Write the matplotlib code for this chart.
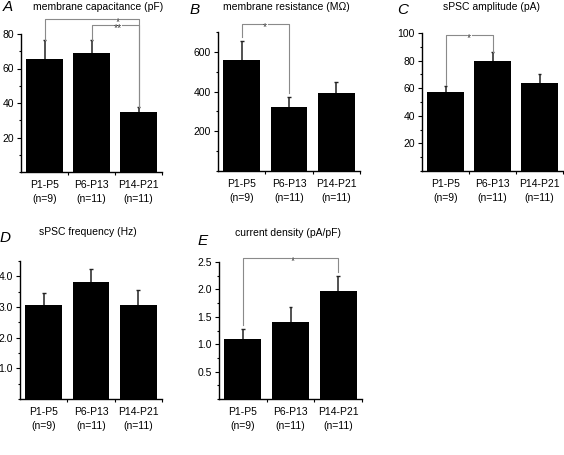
import matplotlib
matplotlib.use("Agg")
import matplotlib.pyplot as plt
from matplotlib.ticker import MultipleLocator

plt.rcParams['font.family'] = ['Liberation Sans', 'DejaVu Sans']
plt.rcParams['font.size'] = 7.5

W, H = 564, 455

groups = ["P1-P5\n(n=9)", "P6-P13\n(n=11)", "P14-P21\n(n=11)"]

cap_mean = [65.5, 69.0, 34.5]
cap_err = [11.0, 7.5, 3.0]
res_mean = [560, 320, 392]
res_err = [95, 55, 55]
amp_mean = [57.0, 80.0, 63.5]
amp_err = [4.5, 6.0, 7.0]
freq_mean = [3.05, 3.82, 3.05]
freq_err = [0.42, 0.42, 0.50]
dens_mean = [1.10, 1.40, 1.97]
dens_err = [0.18, 0.27, 0.28]

# significance brackets: (bar a, bar b, bracket height, label, star x)
cap_sig = [(0, 2, 88.7, "*", 1.56), (1, 2, 85.2, "**", 1.56)]
res_sig = [(0, 1, 740, "*", 0.5)]
amp_sig = [(0, 1, 98.5, "*", 0.5)]
dens_sig = [(0, 2, 2.57, "*", 1.04)]


def px_box(x0, x1, ytop, ybot):
    return [x0 / W, 1 - ybot / H, (x1 - x0) / W, (ybot - ytop) / H]


def bar_panel(fig, box, means, errs, ymax, major, minor, fmt, sigs, gap):
    ax = fig.add_axes(box)
    x = list(range(len(means)))
    ax.bar(x, means, width=0.78, color="black", zorder=2)
    tops = [m + e for m, e in zip(means, errs)]
    ax.vlines(x, means, tops, color="#222222", lw=1.1, zorder=1)
    ax.hlines(tops, [i - 0.04 for i in x], [i + 0.04 for i in x],
              color="#222222", lw=1.0, zorder=1)
    ax.set_xlim(-0.5, 2.5)
    ax.set_ylim(0, ymax)
    ax.spines["top"].set_visible(False)
    ax.spines["right"].set_visible(False)
    ax.spines["left"].set_linewidth(1.0)
    ax.spines["bottom"].set_linewidth(1.0)
    ax.yaxis.set_major_locator(MultipleLocator(major))
    ax.yaxis.set_minor_locator(MultipleLocator(minor))
    ticks = [t for t in ax.get_yticks() if 0 < t <= ymax + 1e-9]
    ax.set_yticks(ticks)
    ax.set_yticklabels([fmt.format(t) for t in ticks])
    ax.tick_params(axis="y", which="major", direction="out", length=3, width=0.8, pad=2)
    ax.tick_params(axis="y", which="minor", direction="out", length=1.5, width=0.8)
    ax.set_xticks([0.5, 1.5, 2.5])
    ax.set_xticklabels([])
    ax.set_xticks(x, minor=True)
    ax.set_xticklabels(groups, minor=True, linespacing=1.4)
    ax.tick_params(axis="x", which="major", direction="out", length=2, width=0.8)
    ax.tick_params(axis="x", which="minor", length=0, pad=6)
    ax.tick_params(axis="both", labelsize=7.5)

    kw = dict(color="#8a8a8a", lw=0.8, clip_on=False, zorder=3)
    for a, b, yb, label, sx in sigs:
        ya = means[a] + errs[a] + gap
        yb2 = means[b] + errs[b] + gap
        half = 0.032 * len(label) + 0.025
        ax.plot([a, a, sx - half], [ya, yb, yb], **kw)
        ax.plot([sx + half, b, b], [yb, yb, yb2], **kw)

    # stars: brackets that share one x get one text, a line each;
    # the text is anchored on the baseline of its last (lowest) line
    star_x = {}
    for a, b, yb, label, sx in sigs:
        star_x.setdefault(sx, []).append((yb, label))
    for sx, items in star_x.items():
        items.sort(reverse=True)
        ax.annotate("\n".join(lab for _, lab in items), (sx, items[-1][0]),
                    xytext=(0, -4.3), textcoords="offset points",
                    ha="center", va="baseline", ma="center", fontsize=7.5,
                    linespacing=0.5, color="#333333",
                    annotation_clip=False, zorder=4)
    return ax


fig = plt.figure(figsize=(W / 100, H / 100), dpi=100)

bar_panel(fig, px_box(21, 162, 34, 172), cap_mean, cap_err, 80, 20, 10,
          "{:.0f}", cap_sig, 0.0)
bar_panel(fig, px_box(218, 360, 32, 171), res_mean, res_err, 700, 200, 100,
          "{:.0f}", res_sig, 20)
bar_panel(fig, px_box(422, 563, 33, 171), amp_mean, amp_err, 100, 20, 10,
          "{:.0f}", amp_sig, 0.5)
bar_panel(fig, px_box(20, 162, 261, 399), freq_mean, freq_err, 4.5, 1.0, 0.5,
          "{:.1f}", [], 0)
bar_panel(fig, px_box(219, 362, 262, 399), dens_mean, dens_err, 2.5, 0.5, 0.25,
          "{:.1f}", dens_sig, 0.07)

panels = [
    ("A", 3, 7, "membrane capacitance (pF)", 33, 7),
    ("B", 190, 10, "membrane resistance (M\u03a9)", 223, 7),
    ("C", 397, 10, "sPSC amplitude (pA)", 443, 7),
    ("D", 0, 238, "sPSC frequency (Hz)", 39, 232),
    ("E", 198, 241, "current density (pA/pF)", 235, 233),
]
for letter, lx, ly, title, tx, ty in panels:
    fig.text(lx / W, 1 - ly / H, letter, fontsize=11, style="italic",
             ha="left", va="center")
    fig.text(tx / W, 1 - ty / H, title, fontsize=7.5, ha="left", va="center")

fig.savefig("out.png", dpi=100)
